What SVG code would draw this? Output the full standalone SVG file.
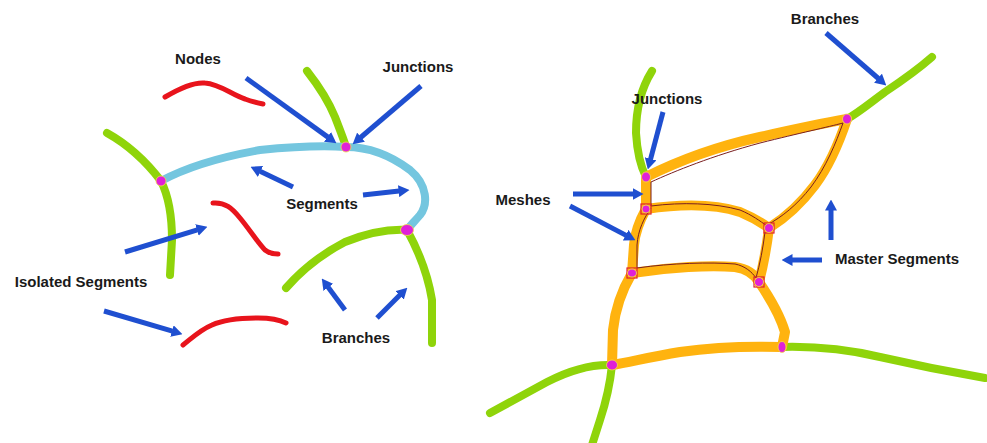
<svg xmlns="http://www.w3.org/2000/svg" width="987" height="443" viewBox="0 0 987 443">
<defs>
<style>
.g{fill:none;stroke:#8fd40a;stroke-width:8;stroke-linecap:round;stroke-linejoin:round}
.c{fill:none;stroke:#74c6df;stroke-width:8;stroke-linecap:round;stroke-linejoin:round}
.r{fill:none;stroke:#e8141c;stroke-width:5;stroke-linecap:round;stroke-linejoin:round}
.o{fill:none;stroke:#ffb30f;stroke-width:10;stroke-linecap:round;stroke-linejoin:round}
.t{fill:none;stroke:#7a1f1f;stroke-width:1}
.a{fill:none;stroke:#1f4fd0;stroke-width:5;marker-end:url(#ah)}
.n{fill:#e020d8;stroke:#f3e04a;stroke-width:0.8}
.sq{fill:none;stroke:#e0202a;stroke-width:1.2}
.lbl{font-family:"Liberation Sans",Arial,sans-serif;font-weight:bold;font-size:15px;fill:#1a1a1a;text-anchor:middle}
</style>
<marker id="ah" markerUnits="userSpaceOnUse" markerWidth="11" markerHeight="12" refX="0.5" refY="6" orient="auto" viewBox="0 0 11 12">
<path d="M0,0 L11,6 L0,12 z" fill="#1f4fd0"/>
</marker>
</defs>
<rect width="987" height="443" fill="#ffffff"/>

<g id="connectors">
<!-- left diagram -->
<path class="r" d="M165,97 C180,88 195,82 205,83 C220,84 232,95 245,99 C253,102 258,103 263,104"/>
<path class="r" d="M213,203 C225,202 232,208 240,218 C250,230 258,243 265,250 C270,254 275,254 278,254"/>
<path class="r" d="M183,345 C192,338 200,330 212,325 C225,319 240,318 258,318 C272,318 280,320 286,323"/>
<path class="g" d="M307,71 C318,85 328,100 335,117 C340,130 344,140 346,147"/>
<path class="g" d="M107,133 C125,143 145,160 161,181 C168,195 172,215 172,240 L170,275"/>
<path class="c" d="M161,181 C185,168 215,158 260,150 C300,146 330,146 346,147 C370,147 390,155 410,170 C428,185 428,205 420,215 C414,222 410,226 407,230"/>
<path class="g" d="M286,288 C300,272 320,255 345,242 C370,232 390,229 407,230"/>
<path class="g" d="M407,230 C418,250 428,275 432,300 L432,343"/>

<!-- right diagram -->
<path class="g" d="M932,57 C915,72 900,82 885,92 C870,103 858,113 847,119"/>
<path class="g" d="M652,71 C640,90 636,110 636,133 C637,150 640,165 646,177"/>
<path class="g" d="M782,347 C820,346 850,350 880,357 C915,365 950,372 985,378"/>
<path class="g" d="M612,365 C590,364 570,370 547,382 C525,394 505,405 490,413"/>
<path class="g" d="M612,365 C610,385 605,405 600,420 L592,445"/>
<path class="o" d="M646,177 C670,165 710,148 760,137 C800,128 830,122 847,119"/>
<path class="o" d="M847,119 C840,140 830,165 815,185 C800,205 785,218 769,228"/>
<path class="o" d="M646,177 L646,209"/>
<path class="o" d="M646,209 C680,204 715,204 740,212 C752,217 762,223 769,228"/>
<path class="o" d="M646,209 C640,220 635,232 634,245 L632,273"/>
<path class="o" d="M632,273 C670,267 710,265 735,267 C748,269 755,275 759,282"/>
<path class="o" d="M769,228 C767,245 764,262 759,282"/>
<path class="o" d="M632,273 C622,290 615,310 613,330 L612,365"/>
<path class="o" d="M759,282 C770,298 780,315 785,332 L782,347"/>
<path class="o" d="M612,365 C630,362 650,357 680,352 C715,347 750,346 782,347"/>
<!-- thin mesh outlines -->
<path class="t" d="M651,182 C675,171 712,156 760,143 C800,133 828,127 843,123 C836,143 826,167 811,187 C797,205 782,217 767,225"/>
<path class="t" d="M651,182 L651,206 C682,202 715,203 740,210 C752,215 760,221 767,226"/>
<path class="t" d="M651,208 C644,218 638,230 637,245 L637,268 C672,263 710,262 735,264 C745,266 752,272 756,278"/>
<path class="t" d="M765,232 C763,248 760,264 756,278"/>

<!-- arrows -->
<line class="a" x1="246" y1="78" x2="327.9" y2="137.1"/>
<line class="a" x1="421" y1="86" x2="360.6" y2="137.5"/>
<line class="a" x1="293" y1="187" x2="260" y2="171.3"/>
<line class="a" x1="363" y1="195" x2="399.1" y2="191.1"/>
<line class="a" x1="125" y1="252" x2="197.4" y2="229.9"/>
<line class="a" x1="104" y1="311" x2="172.4" y2="331.2"/>
<line class="a" x1="345" y1="310" x2="328" y2="287"/>
<line class="a" x1="377" y1="318" x2="399.9" y2="295.1"/>
<line class="a" x1="826" y1="33" x2="878.4" y2="78.5"/>
<line class="a" x1="663" y1="112" x2="650.5" y2="159.3"/>
<line class="a" x1="573" y1="194" x2="633" y2="194"/>
<line class="a" x1="570" y1="206" x2="626.1" y2="235.4"/>
<line class="a" x1="831" y1="240" x2="831" y2="210"/>
<line class="a" x1="822" y1="260" x2="792" y2="260"/>
</g>

<g id="node-l1"><ellipse class="n" cx="161" cy="181" rx="5" ry="5"/></g>
<g id="node-l2"><ellipse class="n" cx="346" cy="147" rx="5" ry="5"/></g>
<g id="node-l3"><ellipse class="n" cx="407" cy="230" rx="6.5" ry="5.5"/></g>
<g id="node-r1"><ellipse class="n" cx="646" cy="177" rx="4.5" ry="5"/></g>
<g id="node-r2"><ellipse class="n" cx="847" cy="119" rx="4.5" ry="5"/></g>
<g id="node-r3"><rect class="sq" x="641" y="204" width="10" height="10"/><ellipse class="n" cx="646" cy="209" rx="4" ry="4"/></g>
<g id="node-r4"><rect class="sq" x="764" y="223" width="10" height="10"/><ellipse class="n" cx="769" cy="228" rx="4.5" ry="4.5"/></g>
<g id="node-r5"><rect class="sq" x="627" y="268" width="10" height="10"/><ellipse class="n" cx="632" cy="273" rx="4.5" ry="4"/></g>
<g id="node-r6"><rect class="sq" x="754" y="277" width="10" height="10"/><ellipse class="n" cx="759" cy="282" rx="4.5" ry="4.5"/></g>
<g id="node-r7"><ellipse class="n" cx="612" cy="365" rx="5.5" ry="5"/></g>
<g id="node-r8"><ellipse class="n" cx="782" cy="347" rx="4" ry="5.5"/></g>

<g id="labels">
<text class="lbl" x="198" y="64">Nodes</text>
<text class="lbl" x="418" y="72">Junctions</text>
<text class="lbl" x="322" y="209">Segments</text>
<text class="lbl" x="81" y="287">Isolated Segments</text>
<text class="lbl" x="356" y="343">Branches</text>
<text class="lbl" x="825" y="24">Branches</text>
<text class="lbl" x="667" y="104">Junctions</text>
<text class="lbl" x="523" y="205">Meshes</text>
<text class="lbl" x="897" y="264">Master Segments</text>
</g>
</svg>
